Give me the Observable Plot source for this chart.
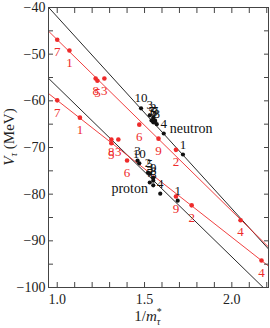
<!DOCTYPE html>
<html><head><meta charset="utf-8">
<script src="https://cdn.jsdelivr.net/npm/d3@7"></script>
<script src="https://cdn.jsdelivr.net/npm/@observablehq/plot@0.6"></script>
<style>body{margin:0;background:#fff} #chart{width:270px;height:328px}</style>
</head><body><div id="chart"></div>
<script>
// ---- data ----
const redNeutronIds = [7, 1, 8, 5, 3, 6, 9, 2, 4];
const redNeutronX   = [1.00, 1.07, 1.22, 1.23, 1.27, 1.47, 1.58, 1.68, 2.05];
const redNeutronY   = [-46.9, -49.2, -55.2, -55.7, -55.2, -65.1, -68.1, -70.5, -85.6];

const redProtonIds  = [7, 1, 8, 5, 3, 6, 9, 2, 4];
const redProtonX    = [1.00, 1.13, 1.31, 1.31, 1.35, 1.40, 1.68, 1.77, 2.17];
const redProtonY    = [-59.9, -63.6, -68.3, -69.1, -68.3, -72.8, -80.5, -82.4, -94.2];

const blackNeutronIds = [10, 3, 2, 5, 7, 8, 6, 9, 4, 1];
const blackNeutronX   = [1.48, 1.53, 1.55, 1.54, 1.56, 1.57, 1.55, 1.56, 1.61, 1.72];
const blackNeutronY   = [-61.6, -63.1, -63.6, -64.2, -64.2, -65.0, -64.6, -64.4, -67.0, -71.5];

const blackProtonIds = [10, 3, 2, 5, 7, 8, 6, 9, 4, 1];
const blackProtonX   = [1.47, 1.46, 1.52, 1.53, 1.53, 1.55, 1.55, 1.55, 1.59, 1.69];
const blackProtonY   = [-73.4, -72.8, -75.4, -75.6, -77.5, -77.1, -78.1, -76.5, -79.9, -81.4];

// fitted lines: y = intercept + slope * x
const lineNames      = ["neutron black", "neutron red", "proton black", "proton red"];
const lineColorKey   = ["black", "red", "black", "red"];
const lineIntercepts = [-0.91, -10.2, -20.54, -30.56];
const lineSlopes     = [-41.1, -36.7, -36.45, -29.34];

const xTicksMajor = [1.0, 1.5, 2.0];
const yTicksMajor = [-40, -50, -60, -70, -80, -90, -100];
const groupLabels = ["neutron", "proton"];
const groupAnchor = ["start", "end"];
const groupLabelX = [1.645, 1.52];
const groupLabelY = [-65.9, -78.7];

// ---- build ----
const RED = "#ee2b2b", BLACK = "#111";
const xDomain = [0.95, 2.21], yDomain = [-100, -40];
const xMinor = d3.range(10, 23).map(d => d / 10);
const yMinor = d3.range(-100, -39, 5);

const mk = (ids, xs, ys) => ids.map((id, i) => ({id: String(id), x: xs[i], y: ys[i]}));
const redPts = [...mk(redNeutronIds, redNeutronX, redNeutronY), ...mk(redProtonIds, redProtonX, redProtonY)];
const blackPts = [...mk(blackNeutronIds, blackNeutronX, blackNeutronY), ...mk(blackProtonIds, blackProtonX, blackProtonY)];
const linePts = lineNames.flatMap((name, i) => xDomain.map(x => ({name, key: lineColorKey[i], x, y: lineIntercepts[i] + lineSlopes[i] * x})));
const groupText = groupLabels.map((t, i) => ({t, a: groupAnchor[i], x: groupLabelX[i], y: groupLabelY[i]}));

const font = "'Liberation Serif', 'DejaVu Serif', serif";
const fmtX = d => xTicksMajor.some(t => Math.abs(t - d) < 1e-6) ? d.toFixed(1) : "";
const fmtY = d => yTicksMajor.includes(d) ? "\u2212" + Math.abs(d) : "";

const chart = Plot.plot({
  width: 270, height: 328,
  marginLeft: 48, marginRight: 2, marginTop: 7, marginBottom: 41,
  style: {fontFamily: font, fontSize: "14px", background: "#fff", color: "#222"},
  x: {domain: xDomain},
  y: {domain: yDomain},
  marks: [
    Plot.line(linePts.filter(d => d.key === "black"), {x: "x", y: "y", z: "name", stroke: BLACK, strokeWidth: 0.9, clip: true}),
    Plot.line(linePts.filter(d => d.key === "red"), {x: "x", y: "y", z: "name", stroke: RED, strokeWidth: 0.9, clip: true}),
    Plot.dot(redPts, {x: "x", y: "y", r: 2.3, fill: RED}),
    Plot.dot(blackPts, {x: "x", y: "y", r: 2.1, fill: BLACK}),
    Plot.text(redPts, {x: "x", y: "y", text: "id", dy: 12, fill: RED, fontSize: 13}),
    Plot.text(blackPts, {x: "x", y: "y", text: "id", dy: -10, fill: BLACK, fontSize: 13}),
    Plot.text(groupText.filter(d => d.a === "start"), {x: "x", y: "y", text: "t", textAnchor: "start", fill: BLACK, fontSize: 14}),
    Plot.text(groupText.filter(d => d.a === "end"), {x: "x", y: "y", text: "t", textAnchor: "end", fill: BLACK, fontSize: 14}),
    Plot.axisX({anchor: "bottom", ticks: xMinor, tickSize: -5, tickPadding: 12, tickFormat: fmtX, label: null, stroke: "#444"}),
    Plot.axisX({anchor: "top", ticks: xMinor, tickSize: -5, tickFormat: () => "", label: null, stroke: "#444"}),
    Plot.axisY({anchor: "left", ticks: yMinor, tickSize: -5, tickPadding: 8, tickFormat: fmtY, label: null, stroke: "#444"}),
    Plot.axisY({anchor: "right", ticks: yMinor, tickSize: -5, tickFormat: () => "", label: null, stroke: "#444"}),
    Plot.frame({stroke: "#444", strokeWidth: 1})
  ]
});
document.getElementById("chart").appendChild(chart);

// axis titles with italic/subscript parts
const svg = d3.select(chart);
const yl = svg.append("text")
  .attr("transform", "translate(14,137) rotate(-90)")
  .attr("text-anchor", "middle")
  .attr("font-family", font).attr("font-size", 15).attr("fill", "#222");
yl.append("tspan").attr("font-style", "italic").text("V");
yl.append("tspan").attr("font-style", "italic").attr("font-size", 10).attr("dy", 3).text("τ");
yl.append("tspan").attr("dy", -3).text(" (MeV)");

const xl = svg.append("text")
  .attr("x", 148).attr("y", 321)
  .attr("text-anchor", "middle")
  .attr("font-family", font).attr("font-size", 15).attr("fill", "#222");
xl.append("tspan").text("1/");
xl.append("tspan").attr("font-style", "italic").text("m");
xl.append("tspan").attr("font-size", 10).attr("dy", -6).text("*");
xl.append("tspan").attr("font-size", 10).attr("font-style", "italic").attr("dx", -5).attr("dy", 10).text("τ");
</script>
</body></html>
